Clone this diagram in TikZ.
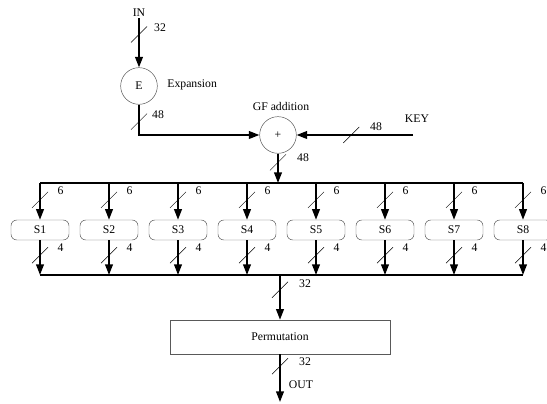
\documentclass[tikz,border=0pt]{standalone}
\usepackage{fontspec}
\setmainfont{Liberation Serif}
\usetikzlibrary{arrows.meta}

\begin{document}
\begin{tikzpicture}[x=0.03cm,y=-0.03cm,font=\fontsize{10}{12}\selectfont]
  \def\busmark#1{\draw[thin] (#1) ++(-8,8) -- ++(16,-16)}  % bus width mark

  \tikzstyle{sig}=[-{Triangle[length=9pt,width=6.5pt]},line width=1.6pt]
  \tikzstyle{bus}=[line width=1.3pt]
  \tikzstyle{op}=[draw=black!70,circle,thin,minimum size=1.1cm,inner sep=0pt]
  \tikzstyle{sbox}=[draw=black!65,thin,rounded corners=5pt,minimum width=1.74cm,minimum height=0.6cm,inner sep=0pt]
  \tikzstyle{lbl}=[inner sep=1pt]

  \useasboundingbox (0,0) rectangle (547,404);

  % EXPANSION
  \node[lbl] (in) at (139,13) {IN};
  \node[op] (E) at (139,86) {E};
  \node[lbl,anchor=west] (exp) at (166,85) {Expansion};
  \draw[sig] (in.south) -- (E.north) coordinate[pos=0.33] (cin);
  \busmark{cin};
  \node[lbl] (w32in) at (160,28) {32};

  % GF ADDITION WITH KEY
  \node[op] (plus) at (278,135) {+};
  \node[lbl] (gf) at (281,106) {GF addition};
  \draw[sig] (E.south) |- (plus.west) coordinate[pos=0.28] (ce);
  \busmark{ce};
  \node[lbl] (w48e) at (158,115) {48};
  \coordinate (keyin) at (413,135);
  \node[lbl] (key) at (417,119) {KEY};
  \draw[sig] (keyin) -- (plus.east) coordinate[pos=0.53] (ck);
  \busmark{ck};
  \node[lbl] (w48k) at (376,127) {48};
  \coordinate (busin) at (278,183);
  \draw[sig] (plus.south) -- (busin) coordinate[pos=0.3] (cg);
  \busmark{cg};
  \node[lbl] (w48g) at (303,158) {48};

  % S-BOXES
  \foreach \i [evaluate=\i as \x using {40+(\i-1)*69}] in {1,...,8}{
    \coordinate (top\i) at (\x,183);
    \node[sbox] (S\i) at (\x,230) {S\i};
    \coordinate (bot\i) at (\x,275);
    \draw[sig] (top\i) -- (S\i.north) coordinate[pos=0.46] (ct\i);
    \busmark{ct\i};
    \node[lbl] (six\i) at (\x+20.5,191) {6};
    \draw[sig] (S\i.south) -- (bot\i) coordinate[pos=0.43] (cb\i);
    \busmark{cb\i};
    \node[lbl] (four\i) at (\x+20.5,248) {4};
  }
  \draw[bus] (top1) -- (top8);
  \draw[bus] (bot1) -- (bot8);

  % PERMUTATION
  \coordinate (busout) at (280,275);
  \node[draw=black!65,thin,minimum width=6.6cm,minimum height=1.02cm] (perm) at (280,337) {Permutation};
  \draw[sig] (busout) -- (perm.north) coordinate[pos=0.33] (cp);
  \busmark{cp};
  \node[lbl] (w32p) at (305,284) {32};
  \coordinate (out) at (280,402);
  \draw[sig] (perm.south) -- (out) coordinate[pos=0.25] (co);
  \busmark{co};
  \node[lbl] (w32o) at (305,362) {32};
  \node[lbl] (outl) at (301,385) {OUT};
\end{tikzpicture}
\end{document}
